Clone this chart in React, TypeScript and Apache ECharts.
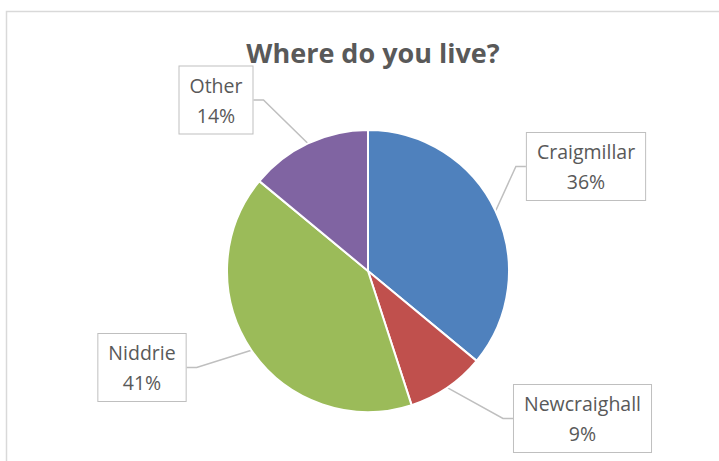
import React, { useEffect, useRef } from "react";
import * as echarts from "echarts";

const categories = ["Craigmillar", "Newcraighall", "Niddrie", "Other"];
const shares = [36, 9, 41, 14];
const colors = ["#4F81BD", "#C0504D", "#9BBB59", "#8064A2"];
const labelCenters = [
  [586, 166.5],
  [582.5, 418.5],
  [142, 367.5],
  [216, 100],
];

export default function App() {
  const ref = useRef<HTMLDivElement>(null);
  useEffect(() => {
    if (!ref.current) return;
    const chart = echarts.init(ref.current, undefined, { renderer: "svg" });
    chart.setOption({
      animation: false,
      backgroundColor: "#ffffff",
      title: {
        text: "Where do you live?",
        left: 368,
        textAlign: "center",
        top: 34,
        textStyle: {
          fontFamily: "Open Sans",
          fontSize: 27,
          fontWeight: "bold",
          color: "#595959",
        },
      },
      graphic: [
        {
          type: "rect",
          shape: { x: 6.5, y: 11.5, width: 800, height: 600 },
          style: { fill: "none", stroke: "#d9d9d9", lineWidth: 1.5 },
          silent: true,
        },
      ],
      series: [
        {
          type: "pie",
          center: [368, 271],
          radius: 141,
          startAngle: 90,
          clockwise: true,
          percentPrecision: 0,
          itemStyle: { borderColor: "#ffffff", borderWidth: 2 },
          data: categories.map((name, i) => ({
            name,
            value: shares[i],
            itemStyle: { color: colors[i] },
          })),
          label: {
            show: true,
            position: "outside",
            formatter: (p: any) => `${p.name}\n${Math.round(p.percent)}%`,
            fontFamily: "Open Sans",
            fontSize: 19.5,
            color: "#595959",
            lineHeight: 30,
            align: "center",
            backgroundColor: "#ffffff",
            borderColor: "#bfbfbf",
            borderWidth: 1,
            padding: [4, 10, 3, 10],
          },
          labelLine: {
            show: true,
            length: 10,
            length2: 10,
            lineStyle: { color: "#bfbfbf", width: 1.5 },
          },
          labelLayout: (params: any) => {
            const c = labelCenters[params.dataIndex];
            return {
              x: c[0],
              y: c[1],
              align: "center",
              verticalAlign: "middle",
            };
          },
        },
      ],
    });
    return () => chart.dispose();
  }, []);
  return (
    <div
      ref={ref}
      style={{ position: "fixed", left: 0, top: 0, width: 719, height: 461 }}
    />
  );
}
